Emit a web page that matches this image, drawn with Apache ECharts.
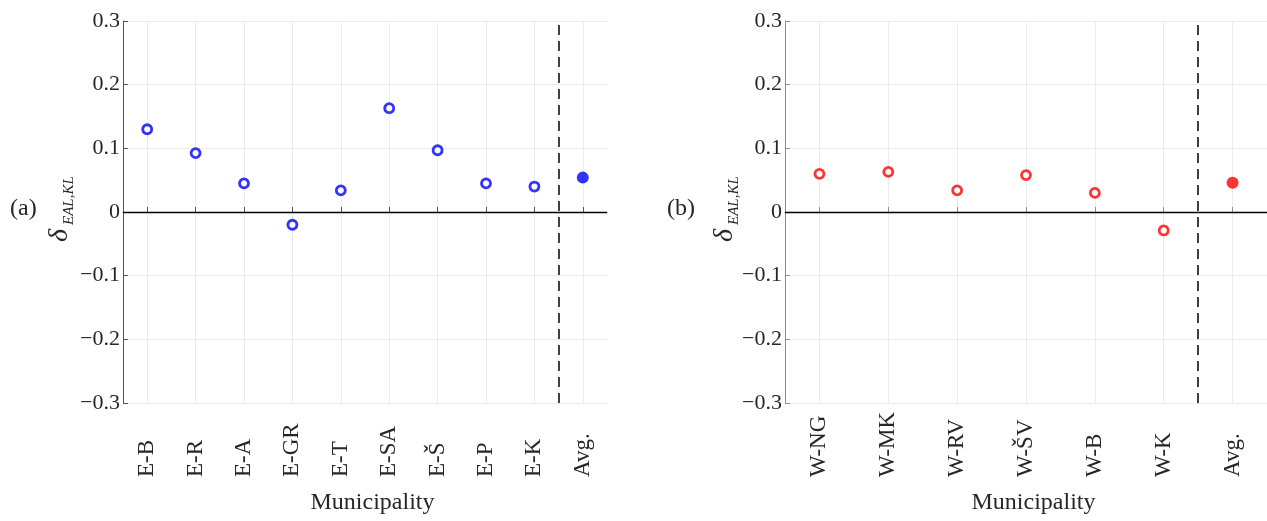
<!DOCTYPE html>
<html>
<head>
<meta charset="utf-8">
<script src="https://cdn.jsdelivr.net/npm/echarts@6/dist/echarts.min.js"></script>
<style>
  html, body { margin: 0; padding: 0; background: #fff; }
  #chart { width: 1267px; height: 521px; }
</style>
</head>
<body>
<div id="chart"></div>
<script>
// East-region municipalities (panel a)
const categoriesA = ['E-B', 'E-R', 'E-A', 'E-GR', 'E-T', 'E-SA', 'E-Š', 'E-P', 'E-K', 'Avg.'];
const valuesA = [0.130, 0.0925, 0.045, -0.020, 0.034, 0.163, 0.097, 0.045, 0.040];
const avgA = 0.054;

// West-region municipalities (panel b)
const categoriesB = ['W-NG', 'W-MK', 'W-RV', 'W-ŠV', 'W-B', 'W-K', 'Avg.'];
const valuesB = [0.060, 0.063, 0.034, 0.058, 0.030, -0.029];
const avgB = 0.046;

// y-axis range and step
const yMin = -0.3, yMax = 0.3, yStep = 0.1;

const FONT = 'Liberation Serif';
const TEXT = '#262626';
const AXIS = '#555';
const GRID = '#ebebeb';

function fmtY(v) {
  const r = Math.round(v * 10) / 10;
  if (r === 0) return '0';
  return (r < 0 ? '\u2212' : '') + Math.abs(r).toFixed(1);
}

function catAxis(gridIndex, cats, axisColor) {
  return {
    type: 'category', gridIndex, data: cats, boundaryGap: true,
    axisLine: { show: true, lineStyle: { color: axisColor, width: 1 } },
    axisTick: { show: true, inside: true, length: 5, alignWithLabel: true, lineStyle: { color: axisColor } },
    axisLabel: {
      interval: 0, rotate: 90, align: 'left', verticalAlign: 'middle', margin: 74,
      fontFamily: FONT, fontSize: 23, color: TEXT
    },
    splitLine: { show: true, alignWithLabel: true, lineStyle: { color: GRID, width: 1 } },
    name: 'Municipality', nameLocation: 'middle', nameGap: 88,
    nameTextStyle: { fontFamily: FONT, fontSize: 24, color: TEXT, padding: [0, 0, 0, 15] }
  };
}

function valAxisY(gridIndex, axisColor) {
  return {
    type: 'value', gridIndex, min: yMin, max: yMax, interval: yStep,
    axisLine: { show: true, lineStyle: { color: axisColor, width: 1 } },
    axisTick: { show: true, inside: true, length: 5, lineStyle: { color: axisColor } },
    axisLabel: { formatter: fmtY, fontFamily: FONT, fontSize: 22, color: TEXT, margin: 3 },
    splitLine: { show: true, lineStyle: { color: GRID, width: 1 } }
  };
}

// hidden linear axis spanning the category bands, used to place the separator line
function bandAxis(gridIndex, n) {
  return { type: 'value', gridIndex, min: 0, max: n, show: false, splitLine: { show: false } };
}

function refLines(xAxisIndex, yAxisIndex, sepAt) {
  return {
    type: 'line', xAxisIndex, yAxisIndex, data: [], z: 3, silent: true,
    markLine: {
      symbol: 'none', silent: true, label: { show: false }, animation: false,
      data: [
        { xAxis: sepAt, lineStyle: { color: '#111', width: 1.6, type: [10, 6] } },
        { yAxis: 0, lineStyle: { color: '#000', width: 1.4, type: 'solid' } }
      ]
    }
  };
}

function openPoints(xi, yi, cats, vals, color) {
  return {
    type: 'scatter', xAxisIndex: xi, yAxisIndex: yi, z: 5,
    data: vals.map((v, i) => [cats[i], v]),
    symbol: 'circle', symbolSize: 9,
    itemStyle: { color: '#fff', borderColor: color, borderWidth: 2.8 }
  };
}

function avgPoint(xi, yi, cats, v, color) {
  return {
    type: 'scatter', xAxisIndex: xi, yAxisIndex: yi, z: 5,
    data: [[cats[cats.length - 1], v]],
    symbol: 'circle', symbolSize: 12,
    itemStyle: { color: color }
  };
}

// rotated y-axis title: δ with the subscript EAL,KL
function yTitle(baseX, baseY) {
  return {
    type: 'group', x: baseX, y: baseY, rotation: Math.PI / 2,
    children: [
      { type: 'text', x: 0, y: 0, style: { text: 'δ', font: 'italic 28px "Liberation Serif"', fill: TEXT } },
      { type: 'text', x: 17, y: 16, style: { text: 'EAL,KL', font: 'italic 15px "Liberation Serif"', fill: TEXT } }
    ]
  };
}

const chart = echarts.init(document.getElementById('chart'), null, { renderer: 'canvas' });

chart.setOption({
  animation: false,
  backgroundColor: '#fff',
  grid: [
    { left: 123, top: 21, width: 484, height: 382, containLabel: false },
    { left: 785, top: 21, width: 483, height: 382, containLabel: false }
  ],
  xAxis: [
    catAxis(0, categoriesA, AXIS),
    catAxis(1, categoriesB, '#8a8a8a'),
    bandAxis(0, categoriesA.length),
    bandAxis(1, categoriesB.length)
  ],
  yAxis: [
    valAxisY(0, AXIS),
    valAxisY(1, '#8a8a8a')
  ],
  graphic: [
    { type: 'text', left: 10, top: 197, style: { text: '(a)', font: '24px "Liberation Serif"', fill: TEXT } },
    { type: 'text', left: 667, top: 197, style: { text: '(b)', font: '24px "Liberation Serif"', fill: TEXT } },
    yTitle(46, 242),
    yTitle(711, 242)
  ],
  series: [
    refLines(2, 0, categoriesA.length - 1),
    refLines(3, 1, categoriesB.length - 1),
    openPoints(0, 0, categoriesA, valuesA, '#0000ff'),
    avgPoint(0, 0, categoriesA, avgA, '#0000ff'),
    openPoints(1, 1, categoriesB, valuesB, '#ff0000'),
    avgPoint(1, 1, categoriesB, avgB, '#ff0000')
  ]
});
</script>
</body>
</html>
